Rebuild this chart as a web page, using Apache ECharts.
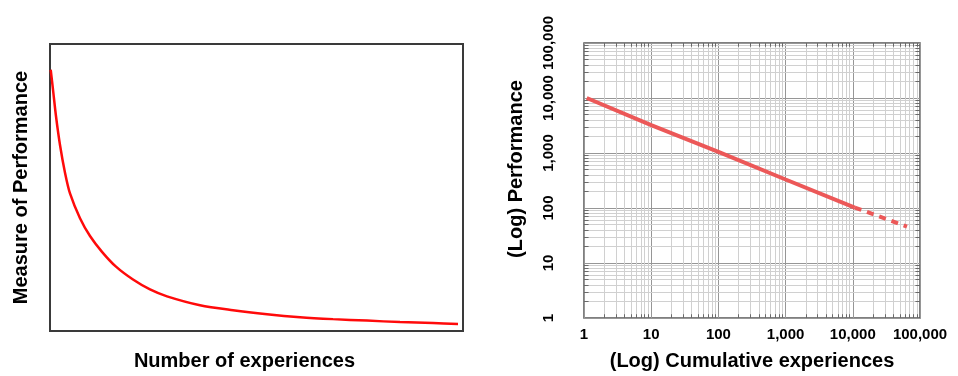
<!DOCTYPE html>
<html>
<head>
<meta charset="utf-8">
<script src="https://cdn.jsdelivr.net/npm/echarts@6/dist/echarts.min.js"></script>
<style>
  html, body { margin: 0; padding: 0; background: #fff; }
  #chart { width: 958px; height: 376px; }
</style>
</head>
<body>
<div id="chart"></div>
<script>
// ---- Left chart: learning curve (linear, unitless axes) ----
const leftX = [0.7, 3, 6, 10, 15, 20, 30, 40, 52, 66, 83, 100, 117, 150, 183, 217, 250, 283, 317, 350, 383, 408];
const leftY = [264, 244, 217, 188, 160, 139, 114, 96, 80, 65, 52, 42, 35, 26, 21, 17, 14, 12, 10.5, 9, 8, 7];

// ---- Right chart: log-log learning curve ----
const rightSolidX = [1.1, 10, 100, 1000, 10700];
const rightSolidY = [10000, 3200, 1050, 330, 102];
const rightDashX = [10700, 64000];
const rightDashY = [102, 46];

const xTickLabels = ['1', '10', '100', '1,000', '10,000', '100,000'];
const yTickLabels = ['1', '10', '100', '1,000', '10,000', '100,000'];

const minorValues = [
  2, 3, 4, 5, 6, 7, 8, 9,
  20, 30, 40, 50, 60, 70, 80, 90,
  200, 300, 400, 500, 600, 700, 800, 900,
  2000, 3000, 4000, 5000, 6000, 7000, 8000, 9000,
  20000, 30000, 40000, 50000, 60000, 70000, 80000, 90000
];
const axisMin = 1, axisMax = 100000;
const tickSpan = 1.17; // short edge ticks, as a ratio on the log scale

const FONT = '"Liberation Sans", Arial, Helvetica, sans-serif';

const chart = echarts.init(document.getElementById('chart'), null, { renderer: 'canvas' });

const minorLineStyle = { color: '#d0d0d0', width: 1, type: 'solid' };

const edgeTicks = [];
minorValues.forEach(v => {
  edgeTicks.push([{ coord: [v, axisMin] }, { coord: [v, axisMin * tickSpan] }]);
  edgeTicks.push([{ coord: [v, axisMax] }, { coord: [v, axisMax / tickSpan] }]);
  edgeTicks.push([{ coord: [axisMin, v] }, { coord: [axisMin * tickSpan, v] }]);
  edgeTicks.push([{ coord: [axisMax, v] }, { coord: [axisMax / tickSpan, v] }]);
});

const option = {
  animation: false,
  backgroundColor: '#ffffff',
  grid: [
    { left: 50, right: 495, top: 44, bottom: 42, show: true, borderColor: '#3a3a3a', borderWidth: 2, backgroundColor: 'transparent' },
    { left: 584, right: 38, top: 43, bottom: 54, show: true, borderColor: '#555', borderWidth: 1.5, backgroundColor: 'transparent' }
  ],
  xAxis: [
    {
      gridIndex: 0, type: 'value', min: 0, max: 413,
      axisLine: { show: false }, axisTick: { show: false }, axisLabel: { show: false }, splitLine: { show: false },
      name: 'Number of experiences', nameLocation: 'middle', nameGap: 20,
      nameTextStyle: { fontFamily: FONT, fontWeight: 'bold', fontSize: 20, color: '#000', padding: [0, 24, 0, 0] }
    },
    {
      gridIndex: 1, type: 'log', logBase: 10, min: axisMin, max: axisMax,
      axisLine: { show: false }, axisTick: { show: false },
      axisLabel: {
        fontFamily: FONT, fontWeight: 'bold', fontSize: 15, color: '#000', margin: 9,
        formatter: function (v) { return xTickLabels[Math.round(Math.log10(v))]; }
      },
      splitLine: { show: true, lineStyle: { color: '#969696', width: 1 } },
      name: '(Log) Cumulative experiences', nameLocation: 'middle', nameGap: 33,
      nameTextStyle: { fontFamily: FONT, fontWeight: 'bold', fontSize: 20, color: '#000' }
    }
  ],
  yAxis: [
    {
      gridIndex: 0, type: 'value', min: 0, max: 290,
      axisLine: { show: false }, axisTick: { show: false }, axisLabel: { show: false }, splitLine: { show: false },
      name: 'Measure of Performance', nameLocation: 'middle', nameGap: 19,
      nameTextStyle: { fontFamily: FONT, fontWeight: 'bold', fontSize: 20, color: '#000' }
    },
    {
      gridIndex: 1, type: 'log', logBase: 10, min: axisMin, max: axisMax,
      axisLine: { show: false }, axisTick: { show: false },
      axisLabel: {
        fontFamily: FONT, fontWeight: 'bold', fontSize: 15, color: '#000', margin: 28, rotate: 90,
        formatter: function (v) { return yTickLabels[Math.round(Math.log10(v))]; }
      },
      splitLine: { show: true, lineStyle: { color: '#969696', width: 1 } },
      name: '(Log) Performance', nameLocation: 'middle', nameGap: 58,
      nameTextStyle: { fontFamily: FONT, fontWeight: 'bold', fontSize: 20, color: '#000', padding: [0, 0, 0, 23] }
    }
  ],
  series: [
    {
      type: 'line', xAxisIndex: 0, yAxisIndex: 0,
      data: leftX.map((x, i) => [x, leftY[i]]),
      smooth: 0.3, showSymbol: false, symbol: 'none',
      lineStyle: { color: '#ff0a0a', width: 2.5 }, z: 10
    },
    {
      type: 'line', xAxisIndex: 1, yAxisIndex: 1, data: [], z: 1, silent: true,
      markLine: {
        silent: true, z: 1, symbol: ['none', 'none'], label: { show: false }, animation: false,
        lineStyle: minorLineStyle,
        emphasis: { disabled: true },
        data: minorValues.map(v => ({ xAxis: v })).concat(minorValues.map(v => ({ yAxis: v })))
      }
    },
    {
      type: 'line', xAxisIndex: 1, yAxisIndex: 1, data: [], z: 2, silent: true,
      markLine: {
        silent: true, z: 2, symbol: ['none', 'none'], label: { show: false }, animation: false,
        lineStyle: { color: '#6a6a6a', width: 1, type: 'solid' },
        emphasis: { disabled: true },
        data: edgeTicks
      }
    },
    {
      type: 'line', xAxisIndex: 1, yAxisIndex: 1,
      data: rightSolidX.map((x, i) => [x, rightSolidY[i]]),
      showSymbol: false, symbol: 'none',
      lineStyle: { color: '#ec5858', width: 4 }, z: 10
    },
    {
      type: 'line', xAxisIndex: 1, yAxisIndex: 1,
      data: rightDashX.map((x, i) => [x, rightDashY[i]]),
      showSymbol: false, symbol: 'none',
      lineStyle: { color: '#ec5858', width: 4, type: [7, 6] }, z: 10
    }
  ]
};

chart.setOption(option);
</script>
</body>
</html>
